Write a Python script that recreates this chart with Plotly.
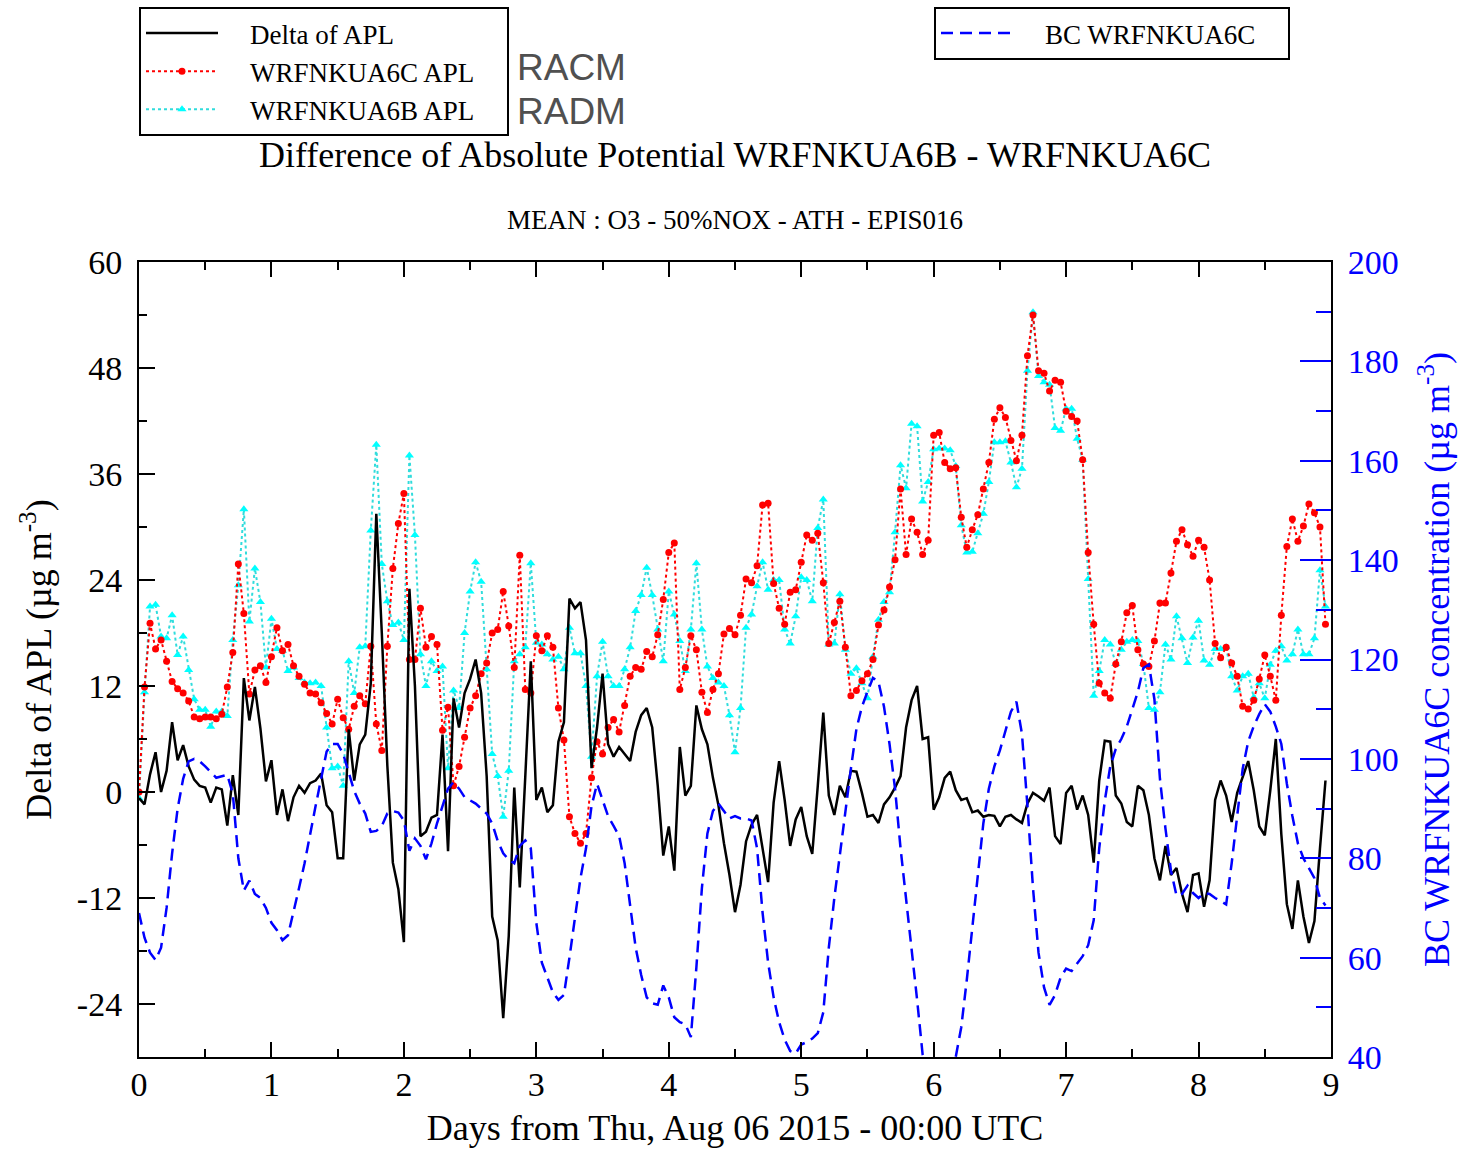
import plotly.graph_objects as go

# ---------------- data (hourly, hour 0 .. 215) ----------------
hours = list(range(216))

delta_apl = [
    -0.7, -1.4, 2.0, 4.5, 0.0, 2.4, 7.9, 3.6, 5.3, 2.9, 1.4, 0.7, 0.5, -1.2, 0.5, 0.3, -3.8, 1.9, -2.6, 12.9,
    8.1, 11.9, 7.2, 1.2, 3.6, -2.6, 0.3, -3.3, -0.6, 0.7, -0.1, 1.0, 1.3, 2.1, -1.5, -2.3, -7.5, -7.5, 7.1, 1.3,
    5.4, 6.5, 12.3, 31.5, 18.0, 3.0, -8.0, -11.0, -17.0, 23.0, 12.0, -5.0, -4.5, -2.9, -2.6, 6.5, -6.7, 10.6, 7.3, 11.2,
    12.8, 15.0, 11.2, 1.8, -14.1, -16.8, -25.6, -16.3, 0.5, -10.8, 1.8, 14.8, -0.9, 0.5, -2.3, -1.5, 5.7, 7.9, 21.9, 20.8,
    21.5, 17.2, 2.7, 7.3, 13.4, 5.4, 4.0, 5.1, 4.3, 3.5, 6.8, 8.7, 9.5, 7.3, 0.7, -7.2, -3.9, -8.9, 5.1, -0.4,
    0.7, 9.8, 7.1, 5.4, 1.6, -1.5, -5.8, -9.4, -13.6, -10.5, -5.6, -3.7, -2.6, -6.4, -10.2, -1.2, 3.5, -0.9, -6.1, -3.1,
    -1.7, -5.0, -7.0, 0.7, 9.0, -0.4, -2.6, 0.7, -0.6, 2.4, 2.3, -0.1, -2.8, -2.6, -3.5, -1.4, -0.6, 0.5, 1.8, 7.3,
    10.4, 12.0, 6.0, 6.2, -2.0, -0.6, 1.6, 2.3, 0.2, -0.9, -0.7, -2.3, -2.1, -2.8, -2.6, -2.7, -3.9, -2.8, -2.6, -3.1,
    -3.5, -1.3, -0.1, -0.5, -1.0, 0.5, -5.0, -5.9, -0.1, 0.7, -2.0, -0.4, -2.6, -8.0, 1.3, 5.8, 5.7, -0.4, -1.3, -3.4,
    -3.9, 0.7, 0.2, -2.6, -7.5, -10.0, -6.1, -9.4, -8.6, -11.5, -13.6, -9.4, -9.2, -13.0, -10.0, -0.9, 1.3, -0.4, -3.4, -0.1,
    1.7, 3.5, 0.2, -3.9, -4.9, 0.2, 6.0, -4.8, -12.7, -15.5, -10.0, -14.1, -17.1, -14.6, -6.4, 1.3,
]

apl_6c = [
    0.0, 11.9, 19.1, 16.2, 17.2, 14.8, 12.5, 11.7, 11.2, 10.3, 8.5, 8.3, 8.5, 8.5, 8.3, 8.8, 11.9, 15.8, 25.8, 20.2,
    11.1, 13.8, 14.3, 12.4, 15.3, 18.6, 16.0, 16.7, 14.3, 13.1, 12.2, 11.2, 11.1, 10.1, 8.9, 7.7, 10.5, 8.4, 7.1, 9.7,
    10.9, 10.0, 16.5, 7.7, 4.7, 16.5, 25.3, 30.4, 33.8, 15.0, 15.0, 20.8, 16.4, 17.6, 16.7, 7.0, 9.6, 0.7, 2.9, 6.2,
    9.5, 10.9, 13.4, 14.6, 18.0, 18.4, 22.7, 18.8, 14.1, 26.8, 11.6, 11.2, 17.7, 16.0, 17.7, 16.4, 9.5, 5.9, -2.8, -4.7,
    -5.8, -4.7, 1.6, 5.7, 4.3, 7.3, 8.2, 6.8, 9.8, 13.1, 14.1, 13.9, 15.9, 15.3, 17.8, 21.8, 27.1, 28.2, 11.6, 14.1,
    17.7, 16.1, 11.3, 9.0, 11.6, 13.4, 17.9, 18.5, 17.8, 20.0, 24.1, 23.7, 25.6, 32.5, 32.7, 23.6, 20.8, 19.0, 22.6, 22.9,
    26.0, 29.1, 28.5, 29.3, 23.7, 16.8, 19.2, 21.6, 16.4, 10.9, 11.5, 12.6, 13.4, 15.0, 18.9, 20.6, 23.2, 26.3, 34.3, 26.9,
    30.9, 29.4, 26.9, 28.5, 40.4, 40.7, 37.3, 36.6, 36.7, 31.1, 27.7, 29.7, 31.4, 34.3, 37.3, 42.2, 43.5, 42.4, 39.8, 37.5,
    40.4, 49.4, 54.0, 47.7, 47.4, 45.4, 46.6, 46.4, 43.1, 42.5, 42.0, 37.6, 27.1, 19.0, 12.3, 11.2, 10.6, 14.5, 17.0, 20.3,
    21.1, 16.1, 14.5, 14.2, 17.1, 21.4, 21.4, 24.8, 28.4, 29.7, 28.0, 26.7, 28.5, 27.7, 24.0, 16.8, 15.2, 16.4, 14.6, 13.1,
    9.7, 9.4, 10.4, 12.8, 15.5, 13.1, 10.4, 20.0, 27.8, 30.9, 28.4, 30.1, 32.6, 31.6, 30.0, 19.0,
]

apl_6b = [
    -0.7, 11.3, 21.0, 21.2, 17.6, 17.4, 20.0, 15.5, 17.6, 13.8, 10.5, 9.3, 9.3, 7.4, 9.1, 9.1, 8.6, 17.2, 23.4, 32.0,
    19.3, 25.3, 21.5, 14.1, 19.6, 16.2, 16.0, 13.7, 14.1, 12.9, 12.4, 12.3, 12.4, 12.0, 7.3, 2.7, 2.9, 0.7, 14.8, 11.2,
    16.4, 16.5, 29.6, 39.3, 25.8, 21.6, 18.9, 19.2, 17.2, 38.1, 29.1, 15.6, 12.0, 14.8, 13.7, 14.2, 2.7, 11.5, 9.5, 18.0,
    22.7, 26.0, 23.8, 13.9, 4.3, 1.8, -2.8, 2.4, 14.8, 15.6, 16.4, 25.9, 16.9, 16.7, 15.6, 15.0, 15.3, 13.9, 18.6, 15.7,
    15.7, 12.0, 4.0, 13.1, 17.0, 13.1, 12.0, 12.0, 13.9, 16.4, 20.5, 22.3, 25.4, 22.3, 18.4, 14.8, 22.7, 20.1, 17.1, 13.7,
    18.4, 25.9, 18.4, 14.2, 12.9, 12.4, 12.0, 8.7, 4.5, 9.5, 18.6, 20.1, 23.3, 26.0, 22.9, 24.0, 24.0, 18.4, 16.8, 19.9,
    24.3, 24.0, 21.6, 29.9, 33.1, 16.7, 16.8, 22.4, 16.1, 13.4, 14.0, 12.3, 10.6, 15.3, 19.5, 21.5, 22.6, 29.4, 37.0, 34.4,
    41.7, 41.4, 32.9, 35.1, 38.8, 38.9, 38.9, 38.7, 36.9, 30.2, 27.1, 27.2, 29.3, 31.5, 35.1, 39.6, 39.6, 39.7, 37.3, 34.5,
    36.6, 47.7, 54.3, 47.1, 46.4, 46.1, 41.2, 40.9, 43.4, 43.4, 40.0, 37.6, 24.1, 10.9, 13.7, 17.2, 16.7, 14.5, 16.1, 17.0,
    17.2, 17.1, 14.5, 9.5, 9.3, 11.3, 16.7, 15.0, 19.9, 17.4, 14.6, 17.5, 19.4, 14.9, 14.4, 16.2, 16.2, 16.4, 13.1, 11.5,
    13.1, 13.4, 10.7, 12.3, 10.6, 14.4, 16.0, 16.5, 14.9, 15.6, 18.4, 15.6, 15.6, 17.4, 25.1, 21.0,
]

bc_6c = [
    69.0, 64.0, 61.0, 59.5, 62.0, 70.0, 81.0, 90.0, 96.0, 99.5, 100.0, 99.5, 98.5, 97.3, 96.2, 96.5, 96.8, 93.0, 80.0, 73.5,
    75.5, 72.8, 72.0, 70.0, 67.0, 65.5, 63.5, 64.5, 69.0, 74.0, 79.0, 85.0, 90.5, 96.0, 101.5, 103.0, 103.0, 101.0, 97.5, 93.5,
    91.0, 89.0, 85.3, 85.5, 86.5, 89.0, 89.5, 89.2, 87.6, 81.5, 84.0, 82.5, 79.8, 83.0, 87.0, 90.5, 94.0, 95.3, 94.0, 92.3,
    91.6, 91.0, 90.0, 89.0, 87.0, 83.5, 81.0, 79.7, 79.0, 82.5, 83.6, 82.0, 67.0, 59.0, 56.0, 53.0, 51.5, 52.5, 60.0, 68.5,
    76.0, 82.0, 90.5, 95.0, 91.5, 88.5, 86.5, 84.5, 79.0, 70.0, 62.0, 56.5, 52.0, 50.8, 50.5, 54.4, 52.0, 48.0, 47.0, 46.6,
    44.0, 58.0, 74.0, 85.0, 89.5, 91.0, 89.5, 88.0, 88.5, 88.0, 88.0, 87.6, 82.0, 69.0, 59.0, 52.0, 47.0, 43.5, 41.2, 40.7,
    42.5, 43.0, 43.7, 44.8, 49.0, 62.0, 72.0, 81.0, 89.0, 98.0, 106.0, 110.5, 113.5, 116.3, 115.5, 110.5, 103.0, 94.0, 82.0, 72.0,
    62.0, 51.5, 40.5, 37.0, 36.0, 35.0, 35.5, 37.0, 40.0, 46.0, 55.5, 66.0, 76.0, 87.0, 94.0, 98.5, 101.7, 105.5, 109.5, 111.5,
    105.0, 90.5, 74.0, 61.0, 54.0, 50.5, 52.5, 56.0, 57.8, 57.3, 58.8, 60.3, 62.5, 67.5, 82.0, 91.5, 98.5, 102.0, 104.0, 106.5,
    110.0, 113.5, 118.3, 119.0, 112.0, 96.0, 86.0, 77.5, 72.5, 72.8, 74.5, 73.0, 72.0, 73.0, 72.8, 72.0, 71.4, 70.7, 79.0, 89.0,
    98.0, 103.5, 106.6, 109.0, 111.0, 109.5, 106.5, 103.0, 95.0, 88.5, 83.0, 80.0, 78.0, 76.0, 72.0, 70.5,
]

days = [h / 24.0 for h in hours]

x_ticks = [0, 1, 2, 3, 4, 5, 6, 7, 8, 9]
y_left_ticks = [-24, -12, 0, 12, 24, 36, 48, 60]
y_left_labels = ["-24", "-12", "0", "12", "24", "36", "48", "60"]
y_right_ticks = [40, 60, 80, 100, 120, 140, 160, 180, 200]

SERIF = "Liberation Serif, Times New Roman, serif"
SANS = "Liberation Sans, Arial, sans-serif"
NB = "\u00a0"

fig = go.Figure()

fig.add_trace(go.Scatter(
    x=days, y=apl_6b, name=NB * 4 + "WRFNKUA6B APL" + NB * 4, mode="lines+markers",
    line=dict(color="#30dcdc", width=2, dash="dot"),
    marker=dict(symbol="triangle-up", size=8, color="#00ffff"),
    legend="legend", legendrank=3,
))
fig.add_trace(go.Scatter(
    x=days, y=apl_6c, name=NB * 4 + "WRFNKUA6C APL" + NB * 4, mode="lines+markers",
    line=dict(color="#ff0000", width=2, dash="dot"),
    marker=dict(symbol="circle", size=7, color="#ff0000"),
    legend="legend", legendrank=2,
))
fig.add_trace(go.Scatter(
    x=days, y=delta_apl, name=NB * 4 + "Delta of APL", mode="lines",
    line=dict(color="black", width=2.5),
    legend="legend", legendrank=1,
))
fig.add_trace(go.Scatter(
    x=days, y=bc_6c, name=NB * 4 + "BC WRFNKUA6C" + NB * 4, mode="lines", yaxis="y2",
    line=dict(color="#0000ff", width=2.5, dash="12px,7px"),
    legend="legend2",
))

H_PLOT_TOP, H_PLOT_BOT, X_L, X_R = 262, 1057, 139, 1331


def py(pix):
    return (H_PLOT_BOT - pix) / (H_PLOT_BOT - H_PLOT_TOP)


def px(pix):
    return (pix - X_L) / (X_R - X_L)


fig.update_layout(
    width=1466, height=1150,
    margin=dict(l=139, r=135, t=262, b=93, autoexpand=False),
    paper_bgcolor="white", plot_bgcolor="white",
    font=dict(family=SERIF, color="black", size=27),
    showlegend=True,
    legend=dict(
        x=px(139), y=py(7), xanchor="left", yanchor="top",
        bordercolor="black", borderwidth=2, bgcolor="white",
        font=dict(family=SERIF, size=27, color="black"),
        traceorder="normal", itemwidth=72, tracegroupgap=0,
    ),
    legend2=dict(
        x=px(934), y=py(7), xanchor="left", yanchor="top",
        bordercolor="black", borderwidth=2, bgcolor="white",
        font=dict(family=SERIF, size=27, color="black"),
        itemwidth=72,
    ),
    xaxis=dict(
        range=[0, 9], tickmode="array", tickvals=x_ticks,
        ticks="inside", ticklen=15, tickwidth=2, tickcolor="black",
        minor=dict(dtick=0.5, tick0=0, ticks="inside", ticklen=8, tickwidth=2, tickcolor="black"),
        showline=True, linecolor="black", linewidth=2, mirror="ticks",
        showgrid=False, zeroline=False, automargin=False,
        tickfont=dict(family=SERIF, size=34, color="black"),
        title=dict(text="Days from Thu, Aug 06 2015 - 00:00 UTC",
                   font=dict(family=SERIF, size=36, color="black"), standoff=13),
        ticklabelstandoff=-4,
    ),
    yaxis=dict(
        range=[-30, 60], tickmode="array", tickvals=y_left_ticks, ticktext=y_left_labels,
        ticks="inside", ticklen=16, tickwidth=2, tickcolor="black",
        minor=dict(dtick=6, tick0=0, ticks="inside", ticklen=8, tickwidth=2, tickcolor="black"),
        showline=True, linecolor="black", linewidth=2, mirror=False,
        showgrid=False, zeroline=False, automargin=False,
        tickfont=dict(family=SERIF, size=34, color="black"),
        title=dict(text="Delta of APL (\u00b5g m<sup>-3</sup>)",
                   font=dict(family=SERIF, size=36, color="black"), standoff=14),
        ticklabelstandoff=8,
    ),
    yaxis2=dict(
        overlaying="y", side="right",
        range=[40, 200], tickmode="array", tickvals=y_right_ticks,
        ticks="inside", ticklen=31, tickwidth=2, tickcolor="#0000ff",
        minor=dict(dtick=10, tick0=40, ticks="inside", ticklen=15, tickwidth=2, tickcolor="#0000ff"),
        showline=True, linecolor="black", linewidth=2,
        showgrid=False, zeroline=False, automargin=False,
        tickfont=dict(family=SERIF, size=34, color="#0000ff"),
        title=dict(text="BC WRFNKUA6C concentration (\u00b5g m<sup>-3</sup>)",
                   font=dict(family=SERIF, size=36, color="#0000ff"), standoff=26),
        ticklabelstandoff=8,
    ),
    annotations=[
        dict(text="Difference of Absolute Potential WRFNKUA6B - WRFNKUA6C",
             xref="paper", yref="paper", x=0.5, y=py(155), xanchor="center", yanchor="middle",
             showarrow=False, font=dict(family=SERIF, size=36, color="black")),
        dict(text="MEAN : O3 - 50%NOX - ATH - EPIS016",
             xref="paper", yref="paper", x=0.5, y=py(220), xanchor="center", yanchor="middle",
             showarrow=False, font=dict(family=SERIF, size=27, color="black")),
        dict(text="RACM", xref="paper", yref="paper", x=px(515), y=py(67),
             xanchor="left", yanchor="middle", showarrow=False,
             font=dict(family=SANS, size=37, color="#505050")),
        dict(text="RADM", xref="paper", yref="paper", x=px(515), y=py(111),
             xanchor="left", yanchor="middle", showarrow=False,
             font=dict(family=SANS, size=37, color="#505050")),
    ],
)

fig.write_html("out.html")
